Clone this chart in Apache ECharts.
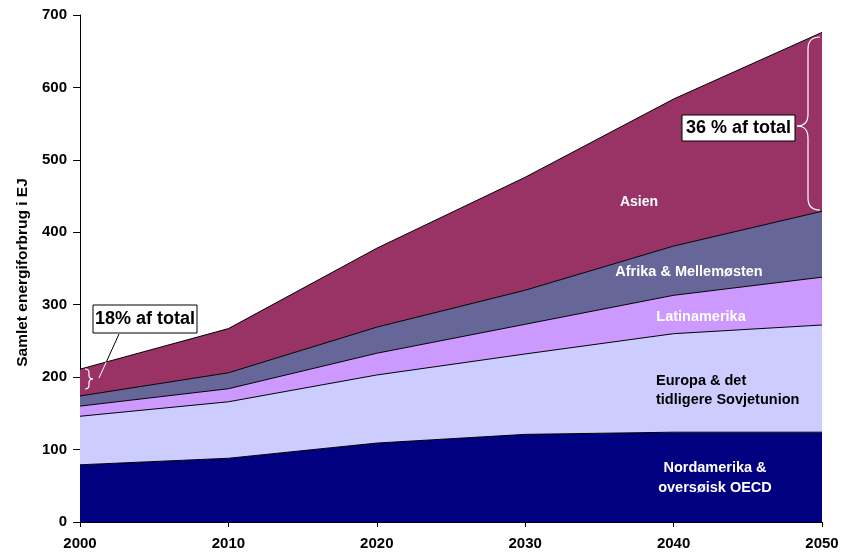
<!DOCTYPE html>
<html>
<head>
<meta charset="utf-8">
<script src="https://cdn.jsdelivr.net/npm/echarts@6/dist/echarts.min.js"></script>
<style>
html,body{margin:0;padding:0;background:#fff;}
#chart{width:843px;height:553px;}
</style>
</head>
<body>
<div id="chart"></div>
<script>
// Data (EJ per region, stacked)
var years = ['2000', '2010', '2020', '2030', '2040', '2050'];
var nordamerika = [79, 88, 109, 121, 124, 124];
var europa = [67, 78, 94, 111, 136, 148];
var latinamerika = [14, 18, 30, 41, 53, 66];
var afrika = [14, 22, 36, 47, 68, 91];
var asien = [37, 61, 109, 156, 203, 247];
var yTicks = [0, 100, 200, 300, 400, 500, 600, 700];

var FONT = '"Liberation Sans", Arial, sans-serif';

function areaSeries(name, data, color) {
  return {
    name: name,
    type: 'line',
    stack: 'total',
    data: data,
    symbol: 'none',
    smooth: false,
    lineStyle: { color: '#000', width: 1 },
    areaStyle: { color: color, opacity: 1 },
    itemStyle: { color: color },
    emphasis: { disabled: true }
  };
}

// brace built from quadratic curves and lines
function brace(xEnd, xMid, xTip, yTop, yTipY, yBot, r) {
  var s = { stroke: '#fff', fill: null, lineWidth: 1.2 };
  return [
    { type: 'bezierCurve', shape: { x1: xEnd, y1: yTop, cpx1: xMid, cpy1: yTop, x2: xMid, y2: yTop + r }, style: s },
    { type: 'line', shape: { x1: xMid, y1: yTop + r, x2: xMid, y2: yTipY - r }, style: s },
    { type: 'bezierCurve', shape: { x1: xMid, y1: yTipY - r, cpx1: xMid, cpy1: yTipY, x2: xTip, y2: yTipY }, style: s },
    { type: 'bezierCurve', shape: { x1: xTip, y1: yTipY, cpx1: xMid, cpy1: yTipY, x2: xMid, y2: yTipY + r }, style: s },
    { type: 'line', shape: { x1: xMid, y1: yTipY + r, x2: xMid, y2: yBot - r }, style: s },
    { type: 'bezierCurve', shape: { x1: xMid, y1: yBot - r, cpx1: xMid, cpy1: yBot, x2: xEnd, y2: yBot }, style: s }
  ];
}

var chart = echarts.init(document.getElementById('chart'));
var graphics = [
  // region labels
  { type: 'text', x: 639, y: 202, style: { text: 'Asien', fill: '#fff', font: 'bold 14px ' + FONT, align: 'center', verticalAlign: 'middle' } },
  { type: 'text', x: 689, y: 272, style: { text: 'Afrika & Mellemøsten', fill: '#fff', font: 'bold 14.5px ' + FONT, align: 'center', verticalAlign: 'middle' } },
  { type: 'text', x: 701, y: 317, style: { text: 'Latinamerika', fill: '#fff', font: 'bold 14.5px ' + FONT, align: 'center', verticalAlign: 'middle' } },
  { type: 'text', x: 656, y: 390, style: { text: 'Europa & det\ntidligere Sovjetunion', fill: '#000', font: 'bold 14.5px ' + FONT, align: 'left', verticalAlign: 'middle', lineHeight: 19 } },
  { type: 'text', x: 715, y: 478, style: { text: 'Nordamerika &\noversøisk OECD', fill: '#fff', font: 'bold 14.5px ' + FONT, align: 'center', verticalAlign: 'middle', lineHeight: 20 } },
  // 18% annotation
  { type: 'line', shape: { x1: 119, y1: 334, x2: 106.3, y2: 362 }, style: { stroke: '#000', lineWidth: 1 } },
  { type: 'line', shape: { x1: 106.3, y1: 362, x2: 99, y2: 378 }, style: { stroke: '#fff', lineWidth: 1 } },
  { type: 'rect', shape: { x: 93, y: 305, width: 104, height: 28 }, style: { fill: '#fff', stroke: '#000', lineWidth: 1 } },
  { type: 'text', x: 145, y: 319.5, style: { text: '18% af total', fill: '#000', font: 'bold 18px ' + FONT, align: 'center', verticalAlign: 'middle' } },
  // 36% annotation
  { type: 'rect', shape: { x: 682, y: 115, width: 113, height: 26 }, style: { fill: '#fff', stroke: '#000', lineWidth: 1 } },
  { type: 'text', x: 738.5, y: 128.5, style: { text: '36 % af total', fill: '#000', font: 'bold 18px ' + FONT, align: 'center', verticalAlign: 'middle' } }
];
graphics = graphics.concat(brace(85, 89, 93, 369, 379, 389, 4));
graphics = graphics.concat(brace(820, 808, 797, 37, 126, 210, 12));
graphics.forEach(function (g) { g.z = 100; });

chart.setOption({
  animation: false,
  backgroundColor: '#fff',
  grid: { left: 80, right: 21, top: 15, bottom: 31, containLabel: false },
  xAxis: {
    type: 'category',
    data: years,
    boundaryGap: false,
    axisLine: { lineStyle: { color: '#000', width: 1 } },
    axisTick: { show: true, length: 5, lineStyle: { color: '#000' } },
    axisLabel: { color: '#000', fontFamily: FONT, fontWeight: 'bold', fontSize: 15, margin: 14,
      showMinLabel: true, showMaxLabel: true },
    splitLine: { show: false }
  },
  yAxis: {
    type: 'value',
    min: yTicks[0],
    max: yTicks[yTicks.length - 1],
    interval: 100,
    name: 'Samlet energiforbrug i EJ',
    nameLocation: 'middle',
    nameGap: 40,
    nameRotate: 90,
    nameTextStyle: { color: '#000', fontFamily: FONT, fontWeight: 'bold', fontSize: 15.5, padding: [0, 8, 0, 0] },
    axisLine: { show: true, lineStyle: { color: '#000', width: 1 } },
    axisTick: { show: true, length: 7, lineStyle: { color: '#000' } },
    axisLabel: { color: '#000', fontFamily: FONT, fontWeight: 'bold', fontSize: 15, margin: 13 },
    splitLine: { show: false }
  },
  series: [
    areaSeries('Nordamerika & oversøisk OECD', nordamerika, '#000080'),
    areaSeries('Europa & det tidligere Sovjetunion', europa, '#CCCCFF'),
    areaSeries('Latinamerika', latinamerika, '#CC99FF'),
    areaSeries('Afrika & Mellemøsten', afrika, '#666699'),
    areaSeries('Asien', asien, '#993366')
  ],
  graphic: graphics
});
</script>
</body>
</html>
